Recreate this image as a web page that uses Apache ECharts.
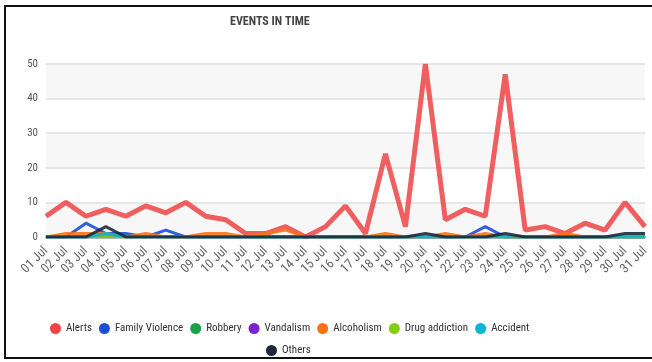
<!DOCTYPE html>
<html>
<head>
<meta charset="utf-8">
<script src="https://cdn.jsdelivr.net/npm/echarts@6/dist/echarts.min.js"></script>
<style>
  html, body { margin: 0; padding: 0; background: #fff; }
  #grafico_eventos { position: absolute; left: 0; top: 0; width: 652px; height: 362px; }
  #marco {
    position: absolute; left: 4px; top: 5px; width: 660px; height: 350px;
    border: 2px solid #111; pointer-events: none;
  }
</style>
</head>
<body>
<div id="grafico_eventos"></div>
<div id="marco"></div>
<script>
const dias = ['01 Jul', '02 Jul', '03 Jul', '04 Jul', '05 Jul', '06 Jul', '07 Jul', '08 Jul',
  '09 Jul', '10 Jul', '11 Jul', '12 Jul', '13 Jul', '14 Jul', '15 Jul', '16 Jul', '17 Jul',
  '18 Jul', '19 Jul', '20 Jul', '21 Jul', '22 Jul', '23 Jul', '24 Jul', '25 Jul', '26 Jul',
  '27 Jul', '28 Jul', '29 Jul', '30 Jul', '31 Jul']

const alerts = [6, 10, 6, 8, 6, 9, 7, 10, 6, 5, 1, 1, 3, 0, 3, 9, 1, 24, 3, 50, 5, 8, 6, 47, 2, 3, 1, 4, 2, 10, 3]
const familyViolence = [0, 0, 4, 1, 1, 0, 2, 0, 0, 0, 0, 0, 0, 0, 0, 0, 0, 0, 0, 0, 0, 0, 3, 0, 0, 0, 0, 0, 0, 0, 0]
const robbery = [0, 0, 0, 0, 0, 0, 0, 0, 0, 0, 0, 0, 0, 0, 0, 0, 0, 0, 0, 0, 0, 0, 0, 0, 0, 0, 0, 0, 0, 0, 0]
const vandalism = [0, 0, 0, 0, 0, 0, 0, 0, 0, 0, 0, 0, 0, 0, 0, 0, 0, 0, 0, 0, 0, 0, 0, 0, 0, 0, 0, 0, 0, 0, 0]
const alcoholism = [0, 1, 1, 1, 0, 1, 0, 0, 1, 1, 0, 1, 2, 0, 0, 0, 0, 1, 0, 0, 1, 0, 1, 0, 0, 0, 1, 0, 0, 0, 0]
const drugAddiction = [0, 0, 0, 0, 0, 0, 0, 0, 0, 0, 0, 0, 0, 0, 0, 0, 0, 0, 0, 0, 0, 0, 0, 0, 0, 0, 0, 0, 0, 0, 0]
const accident = [0, 0, 0, 1, 0, 0, 0, 0, 0, 0, 0, 0, 0, 0, 0, 0, 0, 0, 0, 0, 0, 0, 0, 0, 0, 0, 0, 0, 0, 0, 0]
const others = [0, 0, 0, 3, 0, 0, 0, 0, 0, 0, 0, 0, 0, 0, 0, 0, 0, 0, 0, 1, 0, 0, 0, 1, 0, 0, 0, 0, 0, 1, 1]

const fuente = "'Roboto Condensed', 'DejaVu Sans Condensed', 'Liberation Sans Narrow', 'Arial Narrow', Roboto, sans-serif"

const series = [
  { name: 'Alerts', data: alerts, color: '#ef4444', width: 5 },
  { name: 'Family Violence', data: familyViolence, color: '#1d4ed8', width: 3 },
  { name: 'Robbery', data: robbery, color: '#16a34a', width: 3 },
  { name: 'Vandalism', data: vandalism, color: '#7e22ce', width: 3 },
  { name: 'Alcoholism', data: alcoholism, color: '#f97316', width: 3 },
  { name: 'Drug addiction', data: drugAddiction, color: '#84cc16', width: 3 },
  { name: 'Accident', data: accident, color: '#06b6d4', width: 3 },
  { name: 'Others', data: others, color: '#1e293b', width: 3 }
]

const chart = echarts.init(document.getElementById('grafico_eventos'))

let option = {
  animation: false,
  title: {
    text: 'EVENTS IN TIME',
    left: 225,
    top: 11,
    textStyle: { fontSize: 12, fontWeight: 'bold', color: '#444', fontFamily: fuente }
  },
  legend: [
    {
      data: series.slice(0, 7).map(s => s.name),
      left: 45,
      top: 318,
      icon: 'circle',
      itemWidth: 11,
      itemHeight: 11,
      itemGap: 7,
      textStyle: { fontSize: 11, color: '#333', fontFamily: fuente }
    },
    {
      data: ['Others'],
      left: 261,
      top: 340,
      icon: 'circle',
      itemWidth: 11,
      itemHeight: 11,
      textStyle: { fontSize: 11, color: '#333', fontFamily: fuente }
    }
  ],
  grid: { left: 46, right: 7, top: 64, bottom: 125 },
  xAxis: {
    type: 'category',
    boundaryGap: false,
    data: dias,
    offset: 3,
    axisTick: { show: false },
    axisLine: { lineStyle: { color: '#5cc6cc', width: 2 } },
    axisLabel: {
      interval: 0,
      rotate: 45,
      margin: 9,
      fontSize: 13,
      color: '#666',
      fontFamily: fuente
    }
  },
  yAxis: {
    type: 'value',
    min: 0,
    max: 50,
    interval: 10,
    axisLine: { show: false },
    axisTick: { show: false },
    axisLabel: { fontSize: 11, color: '#555', margin: 8, fontFamily: fuente },
    splitLine: { lineStyle: { color: '#e6e6e6', width: 2 } },
    splitArea: { show: true, areaStyle: { color: ['#f7f7f7', '#ffffff'] } }
  },
  series: series.map(s => ({
    name: s.name,
    type: 'line',
    data: s.data,
    showSymbol: false,
    symbol: 'circle',
    color: s.color,
    lineStyle: { width: s.width, color: s.color, opacity: s.name === 'Alerts' ? 0.85 : 0.9 }
  }))
}

chart.setOption(option)
</script>
</body>
</html>
